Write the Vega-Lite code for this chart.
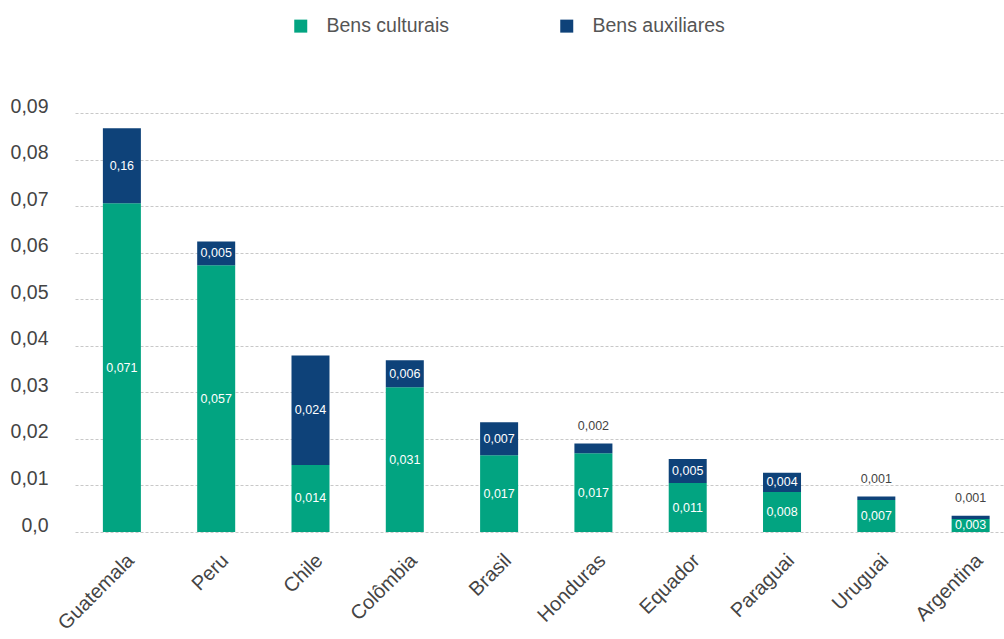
{
  "$schema": "https://vega.github.io/schema/vega-lite/v6.json",
  "autosize": "none",
  "width": 929,
  "height": 419,
  "padding": {"left": 75, "top": 113, "right": 0, "bottom": 107},
  "background": "white",
  "config": {"font": "Liberation Sans", "view": {"stroke": null}},
  "data": {"values": [
    {"pais": "Guatemala", "serie": "Bens culturais", "valor": 0.0706, "rotulo": "0,071"},
    {"pais": "Guatemala", "serie": "Bens auxiliares", "valor": 0.0161, "rotulo": "0,16"},
    {"pais": "Peru", "serie": "Bens culturais", "valor": 0.0573, "rotulo": "0,057"},
    {"pais": "Peru", "serie": "Bens auxiliares", "valor": 0.0051, "rotulo": "0,005"},
    {"pais": "Chile", "serie": "Bens culturais", "valor": 0.0144, "rotulo": "0,014"},
    {"pais": "Chile", "serie": "Bens auxiliares", "valor": 0.0235, "rotulo": "0,024"},
    {"pais": "Colômbia", "serie": "Bens culturais", "valor": 0.0311, "rotulo": "0,031"},
    {"pais": "Colômbia", "serie": "Bens auxiliares", "valor": 0.0058, "rotulo": "0,006"},
    {"pais": "Brasil", "serie": "Bens culturais", "valor": 0.0165, "rotulo": "0,017"},
    {"pais": "Brasil", "serie": "Bens auxiliares", "valor": 0.0071, "rotulo": "0,007"},
    {"pais": "Honduras", "serie": "Bens culturais", "valor": 0.0169, "rotulo": "0,017"},
    {"pais": "Honduras", "serie": "Bens auxiliares", "valor": 0.0021, "rotulo": "0,002"},
    {"pais": "Equador", "serie": "Bens culturais", "valor": 0.0105, "rotulo": "0,011"},
    {"pais": "Equador", "serie": "Bens auxiliares", "valor": 0.0052, "rotulo": "0,005"},
    {"pais": "Paraguai", "serie": "Bens culturais", "valor": 0.0086, "rotulo": "0,008"},
    {"pais": "Paraguai", "serie": "Bens auxiliares", "valor": 0.0041, "rotulo": "0,004"},
    {"pais": "Uruguai", "serie": "Bens culturais", "valor": 0.0069, "rotulo": "0,007"},
    {"pais": "Uruguai", "serie": "Bens auxiliares", "valor": 0.0007, "rotulo": "0,001"},
    {"pais": "Argentina", "serie": "Bens culturais", "valor": 0.0028, "rotulo": "0,003"},
    {"pais": "Argentina", "serie": "Bens auxiliares", "valor": 0.0007, "rotulo": "0,001"}
  ]},
  "transform": [
    {"stack": "valor", "groupby": ["pais"], "sort": [{"field": "serie", "order": "descending"}], "as": ["v0", "v1"]},
    {"calculate": "(datum.v0 + datum.v1) / 2", "as": "meio"}
  ],
  "encoding": {
    "x": {
      "field": "pais", "type": "nominal",
      "sort": ["Guatemala", "Peru", "Chile", "Colômbia", "Brasil", "Honduras", "Equador", "Paraguai", "Uruguai", "Argentina"],
      "scale": {"paddingInner": 0.597, "paddingOuter": 0.224, "align": 0.66},
      "axis": {"title": null, "labelAngle": -45, "labelFontSize": 20, "labelColor": "#444", "labelPadding": 18, "labelOffset": 2, "domain": false, "ticks": false}
    }
  },
  "layer": [
    {
      "mark": {"type": "bar"},
      "encoding": {
        "y": {"field": "v0", "type": "quantitative",
          "scale": {"domain": [0, 0.09], "nice": false},
          "axis": {"title": null, "values": [0, 0.01, 0.02, 0.03, 0.04, 0.05, 0.06, 0.07, 0.08, 0.09],
            "labelExpr": "datum.value == 0 ? '0,0' : replace(format(datum.value, '.2f'), '.', ',')",
            "labelFontSize": 19.5, "labelColor": "#444", "labelPadding": 27, "labelBaseline": "alphabetic", "labelOffset": -1,
            "domain": false, "ticks": false, "grid": true, "gridColor": "#c8c8c8", "gridDash": [3, 2], "gridWidth": 1}},
        "y2": {"field": "v1"},
        "color": {"field": "serie", "type": "nominal",
          "scale": {"domain": ["Bens culturais", "Bens auxiliares"], "range": ["#02A481", "#0E4279"]},
          "legend": {"title": null, "orient": "none", "legendX": 216, "legendY": -97, "direction": "horizontal",
            "symbolType": "square", "symbolSize": 169, "symbolStrokeWidth": 0, "labelFontSize": 19.5, "labelColor": "#555",
            "labelOffset": 16, "columnPadding": 108}}
      }
    },
    {
      "transform": [{"filter": "!(datum.serie == 'Bens auxiliares' && datum.valor < 0.003)"}],
      "mark": {"type": "text", "color": "white", "fontSize": 12.5, "baseline": "middle"},
      "encoding": {"y": {"field": "meio", "type": "quantitative"}, "text": {"field": "rotulo"}}
    },
    {
      "transform": [{"filter": "datum.serie == 'Bens auxiliares' && datum.valor < 0.003"}],
      "mark": {"type": "text", "color": "#444", "fontSize": 12.5, "baseline": "middle", "dy": -18},
      "encoding": {"y": {"field": "v1", "type": "quantitative"}, "text": {"field": "rotulo"}}
    }
  ]
}
